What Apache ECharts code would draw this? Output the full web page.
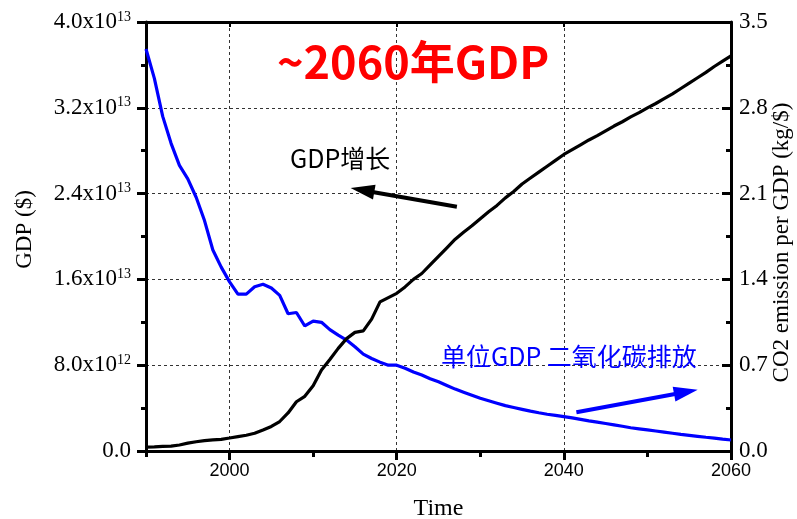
<!DOCTYPE html>
<html>
<head>
<meta charset="utf-8">
<script src="https://cdn.jsdelivr.net/npm/echarts@6/dist/echarts.min.js"></script>
<style>
  html, body { margin: 0; padding: 0; background: #fff; }
  #chart { width: 797px; height: 519px; }
</style>
</head>
<body>
<div id="chart"></div>
<script>
// Years on the time axis (historical up to 2020, projection after)
const years = [
  1990, 1991, 1992, 1993, 1994, 1995, 1996, 1997, 1998, 1999,
  2000, 2001, 2002, 2003, 2004, 2005, 2006, 2007, 2008, 2009,
  2010, 2011, 2012, 2013, 2014, 2015, 2016, 2017, 2018, 2019,
  2020, 2021, 2022, 2023, 2024, 2025, 2026, 2027, 2028, 2029,
  2030, 2031, 2032, 2033, 2034, 2035, 2036, 2037, 2038, 2039,
  2040, 2041, 2042, 2043, 2044, 2045, 2046, 2047, 2048, 2049,
  2050, 2051, 2052, 2053, 2054, 2055, 2056, 2057, 2058, 2059,
  2060
];

// GDP, in trillions of dollars (10^12 $)
const gdpTrillion = [
  0.36, 0.38, 0.43, 0.45, 0.56, 0.73, 0.86, 0.96, 1.03, 1.09,
  1.21, 1.34, 1.47, 1.66, 1.96, 2.29, 2.75, 3.55, 4.59, 5.10,
  6.09, 7.55, 8.53, 9.57, 10.48, 11.06, 11.2, 12.3, 13.9, 14.3,
  14.7, 15.3, 16.0, 16.55, 17.35, 18.15, 18.95, 19.75, 20.4, 21.0,
  21.65, 22.3, 22.9, 23.6, 24.2, 24.9, 25.45, 26.0, 26.55, 27.1,
  27.65, 28.1, 28.55, 29.0, 29.4, 29.85, 30.3, 30.7, 31.15, 31.55,
  32.0, 32.4, 32.85, 33.3, 33.8, 34.3, 34.8, 35.3, 35.85, 36.35,
  36.85
];

// CO2 emission per unit of GDP, kg/$
const co2PerGdp = [
  3.28, 3.04, 2.73, 2.51, 2.33, 2.22, 2.07, 1.88, 1.64, 1.50,
  1.38, 1.28, 1.28, 1.34, 1.36, 1.33, 1.27, 1.12, 1.13, 1.02,
  1.06, 1.05, 0.99, 0.945, 0.905, 0.85, 0.79, 0.755, 0.725, 0.70,
  0.70, 0.675, 0.645, 0.62, 0.59, 0.565, 0.535, 0.505, 0.48, 0.455,
  0.43, 0.41, 0.39, 0.37, 0.355, 0.34, 0.325, 0.312, 0.30, 0.29,
  0.28, 0.27, 0.258, 0.246, 0.235, 0.224, 0.213, 0.202, 0.19, 0.181,
  0.172, 0.163, 0.154, 0.145, 0.136, 0.128, 0.12, 0.112, 0.105, 0.097,
  0.09
];

// Tick positions
const majorYearTicks = [2000, 2020, 2040, 2060];
const minorYearTicks = [1990, 2010, 2030, 2050];
const topYearTicks = [2000, 2020, 2040];

// Arrow annotations, in data coordinates
const gdpArrow = { from: [2027.2, 22.78], to: [2015.9, 24.32] };
const co2Arrow = { from: [2041.5, 0.316], to: [2054.6, 0.481] };

const SERIF = '"Liberation Serif", "Times New Roman", serif';
const SANS = '"Liberation Sans", Arial, sans-serif';
const CJK = '"Noto Sans CJK SC", "Noto Sans", sans-serif';

// Format trillions as "m.mx10^e" with a superscript exponent
function sciLabel(v) {
  if (v === 0) return '{a|0.0}';
  const dollars = v * 1e12;
  const e = Math.floor(Math.log10(dollars) + 1e-9);
  const m = dollars / Math.pow(10, e);
  return '{a|' + m.toFixed(1) + 'x10}{s|' + e + '}';
}

const chart = echarts.init(document.getElementById('chart'), null, { renderer: 'canvas' });

const gridDash = { color: '#333', width: 1, type: [3, 3] };

const option = {
  animation: false,
  backgroundColor: '#fff',
  grid: { left: 146, right: 66, top: 22, bottom: 68, containLabel: false, outerBoundsMode: 'none' },
  xAxis: [
    {
      type: 'value', position: 'bottom', min: 1990, max: 2060,
      name: 'Time', nameLocation: 'middle', nameGap: 46,
      nameTextStyle: { fontFamily: SERIF, fontSize: 24, color: '#000' },
      axisLine: { show: true, lineStyle: { color: '#000', width: 3 } },
      axisTick: { show: true, length: 9, lineStyle: { color: '#000', width: 3 }, customValues: majorYearTicks },
      axisLabel: {
        show: true, margin: 11, fontFamily: SANS, fontSize: 18, color: '#000',
        customValues: majorYearTicks, formatter: v => String(v)
      },
      splitLine: { show: true, lineStyle: gridDash }
    },
    {
      type: 'value', position: 'bottom', min: 1990, max: 2060, offset: 0,
      axisLine: { show: false },
      axisTick: { show: true, length: 6, lineStyle: { color: '#000', width: 3 }, customValues: minorYearTicks },
      axisLabel: { show: false },
      splitLine: { show: false }
    },
    {
      type: 'value', position: 'top', min: 1990, max: 2060,
      axisLine: { show: true, lineStyle: { color: '#000', width: 3 } },
      axisTick: { show: true, inside: true, length: 5, lineStyle: { color: '#000', width: 2 }, customValues: topYearTicks },
      axisLabel: { show: false },
      splitLine: { show: false }
    }
  ],
  yAxis: [
    {
      type: 'value', position: 'left', min: 0, max: 40, interval: 8,
      name: 'GDP ($)', nameLocation: 'middle', nameGap: 110, nameRotate: 90,
      nameTextStyle: { fontFamily: SERIF, fontSize: 23, color: '#000', padding: [0, 0, 0, 14] },
      axisLine: { show: true, lineStyle: { color: '#000', width: 3 } },
      axisTick: { show: true, length: 9, lineStyle: { color: '#000', width: 3 } },
      minorTick: { show: true, splitNumber: 2, length: 5, lineStyle: { color: '#000', width: 3 } },
      axisLabel: {
        margin: 15, formatter: sciLabel,
        rich: {
          a: { fontFamily: SERIF, fontSize: 23, color: '#000', lineHeight: 24 },
          s: { fontFamily: SERIF, fontSize: 14, color: '#000', verticalAlign: 'top', lineHeight: 14 }
        }
      },
      splitLine: { show: true, lineStyle: gridDash }
    },
    {
      type: 'value', position: 'right', min: 0, max: 3.5, interval: 0.7,
      name: 'CO2 emission per GDP (kg/$)', nameLocation: 'middle', nameGap: 39, nameRotate: 90,
      nameMoveOverlap: false,
      nameTextStyle: { fontFamily: SERIF, fontSize: 23, color: '#000', padding: [0, 12, 0, 0] },
      axisLine: { show: true, lineStyle: { color: '#000', width: 3 } },
      axisTick: { show: true, inside: true, length: 9, lineStyle: { color: '#000', width: 3 } },
      minorTick: { show: true, splitNumber: 2, length: 5, lineStyle: { color: '#000', width: 3 } },
      axisLabel: {
        margin: 8, fontFamily: SERIF, fontSize: 23, color: '#000',
        formatter: v => v.toFixed(1)
      },
      splitLine: { show: false }
    }
  ],
  series: [
    {
      name: 'CO2 per GDP', type: 'line', xAxisIndex: 0, yAxisIndex: 1,
      data: years.map((y, i) => [y, co2PerGdp[i]]),
      showSymbol: false, symbol: 'none',
      lineStyle: { color: '#0000ff', width: 3.2 },
      z: 3,
      markLine: {
        silent: true, animation: false,
        symbol: ['none', 'triangle'], symbolSize: [15, 24],
        lineStyle: { color: '#0000ff', width: 4, type: 'solid' },
        label: { show: false },
        emphasis: { disabled: true },
        data: [[{ coord: co2Arrow.from }, { coord: co2Arrow.to }]]
      }
    },
    {
      name: 'GDP', type: 'line', xAxisIndex: 0, yAxisIndex: 0,
      data: years.map((y, i) => [y, gdpTrillion[i]]),
      showSymbol: false, symbol: 'none',
      lineStyle: { color: '#000', width: 3.2 },
      z: 4,
      markLine: {
        silent: true, animation: false,
        symbol: ['none', 'triangle'], symbolSize: [15, 24],
        lineStyle: { color: '#000', width: 4, type: 'solid' },
        label: { show: false },
        emphasis: { disabled: true },
        data: [[{ coord: gdpArrow.from }, { coord: gdpArrow.to }]]
      }
    }
  ],
  graphic: [
    {
      type: 'text', x: 277, y: 62, z: 10,
      style: { text: '~2060年GDP', fill: '#ff0000', fontFamily: CJK, fontSize: 45, fontWeight: 'bold', align: 'left', verticalAlign: 'middle' }
    },
    {
      type: 'text', x: 290, y: 158, z: 10,
      style: { text: 'GDP增长', fill: '#000', fontFamily: CJK, fontSize: 25, align: 'left', verticalAlign: 'middle' }
    },
    {
      type: 'text', x: 441, y: 356, z: 10,
      style: { text: '单位GDP 二氧化碳排放', fill: '#0000ff', fontFamily: CJK, fontSize: 25, align: 'left', verticalAlign: 'middle' }
    }
  ]
};

chart.setOption(option);
</script>
</body>
</html>
